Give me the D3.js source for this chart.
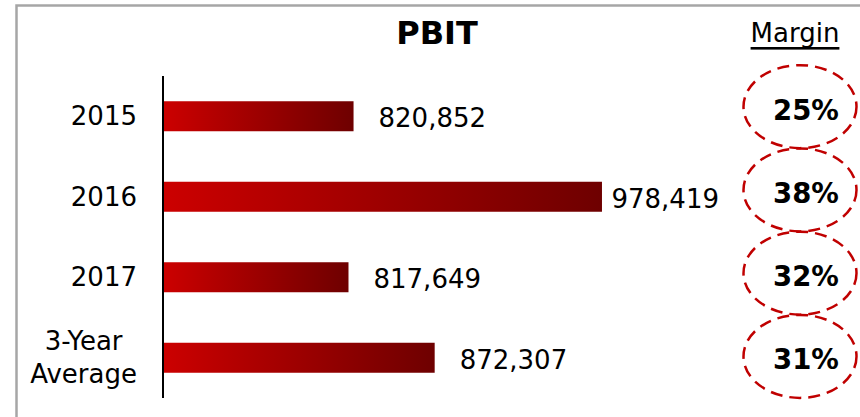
<!DOCTYPE html>
<html>
<head>
<meta charset="utf-8">
<script src="https://cdn.jsdelivr.net/npm/d3@7"></script>
<style>
  html, body { margin: 0; padding: 0; background: #fff; }
  svg { display: block; font-family: "DejaVu Sans", Verdana, sans-serif; }
</style>
</head>
<body>
<svg id="chart" width="860" height="417"></svg>
<script>
const categories = ["2015", "2016", "2017", "3-Year\nAverage"];
const pbitValues = [820852, 978419, 817649, 872307];
const marginValues = [0.25, 0.38, 0.32, 0.31];
const chartTitle = "PBIT";
const marginTitle = "Margin";

const svg = d3.select("#chart");

// frame
svg.append("rect")
  .attr("x", 16.5).attr("y", 5.5).attr("width", 900).attr("height", 500)
  .attr("fill", "#fff").attr("stroke", "#a6a6a6").attr("stroke-width", 2.5);

// gradient
const defs = svg.append("defs");
const grad = defs.append("linearGradient").attr("id", "barGrad")
  .attr("x1", "0%").attr("x2", "100%").attr("y1", "0%").attr("y2", "0%");
grad.append("stop").attr("offset", "0%").attr("stop-color", "#cc0000");
grad.append("stop").attr("offset", "100%").attr("stop-color", "#6e0000");

const x = d3.scaleLinear().domain([700000, 1000000]).range([163, 636]);
const y = d3.scalePoint().domain(categories).range([76, 398]).padding(0.5);
const yM = d3.scalePoint().domain(categories).range([65, 398]).padding(0.5);
const barH = 30;

// title
svg.append("text").attr("x", 437).attr("y", 33)
  .attr("text-anchor", "middle").attr("dominant-baseline", "central")
  .attr("font-size", 32).attr("font-weight", "bold").attr("fill", "#000")
  .text(chartTitle);

svg.append("text").attr("x", 795).attr("y", 33)
  .attr("text-anchor", "middle").attr("dominant-baseline", "central")
  .attr("font-size", 26).attr("fill", "#000")
  .attr("text-decoration", "underline")
  .text(marginTitle);

// bars
svg.selectAll("rect.bar").data(pbitValues).join("rect")
  .attr("class", "bar")
  .attr("x", x(700000))
  .attr("y", (d, i) => y(categories[i]) - barH / 2)
  .attr("width", d => x(d) - x(700000))
  .attr("height", barH)
  .attr("fill", "url(#barGrad)");

// axis line via d3 axis
const yAxis = d3.axisLeft(y).tickSize(0).tickFormat("");
const ag = svg.append("g").attr("transform", `translate(${x(700000)},0)`).call(yAxis);
ag.select(".domain").attr("stroke", "#000").attr("stroke-width", 2)
  .attr("d", `M0,76V398`);

// category labels
const fmt = d3.format(",");
categories.forEach((c, i) => {
  const lines = c.split("\n");
  const cy = y(c);
  const lh = 33;
  if (lines.length === 1) {
    svg.append("text").attr("font-size", 26).attr("fill", "#000")
      .attr("x", 137).attr("y", cy).attr("text-anchor", "end")
      .attr("dominant-baseline", "central").text(c);
  } else {
    const tmp = svg.append("text").attr("font-size", 26);
    let maxW = 0;
    lines.forEach(l => { tmp.text(l); maxW = Math.max(maxW, tmp.node().getComputedTextLength()); });
    tmp.remove();
    const cx = 137 - maxW / 2;
    lines.forEach((l, k) => {
      svg.append("text").attr("font-size", 26).attr("fill", "#000")
        .attr("x", cx).attr("y", cy + (k - (lines.length - 1) / 2) * lh)
        .attr("text-anchor", "middle").attr("dominant-baseline", "central").text(l);
    });
  }
});

// value labels
pbitValues.forEach((v, i) => {
  const t = svg.append("text").attr("font-size", 26).attr("fill", "#000")
    .attr("y", y(categories[i]) + 2).attr("dominant-baseline", "central")
    .text(fmt(v));
  const w = t.node().getComputedTextLength();
  t.attr("x", Math.min(x(v) + 25, 719 - w));
});

// margin ellipses
const pf = d3.format(".0%");
marginValues.forEach((m, i) => {
  const cy = yM(categories[i]);
  svg.append("ellipse").attr("cx", 800).attr("cy", cy).attr("rx", 56.5).attr("ry", 41.5)
    .attr("fill", "none").attr("stroke", "#c00000").attr("stroke-width", 2.5)
    .attr("stroke-dasharray", "12,7");
  svg.append("text").attr("x", 806).attr("y", cy + 3)
    .attr("text-anchor", "middle").attr("dominant-baseline", "central")
    .attr("font-size", 27.5).attr("font-weight", "bold").attr("fill", "#000")
    .text(pf(m));
});
</script>
</body>
</html>
